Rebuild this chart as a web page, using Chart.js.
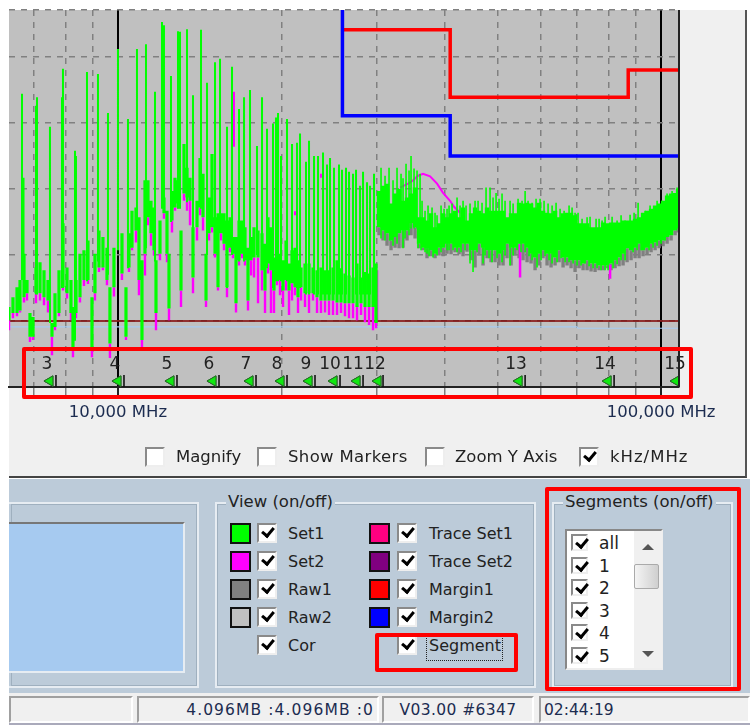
<!DOCTYPE html>
<html>
<head>
<meta charset="utf-8">
<title>Segments</title>
<script src="https://cdn.jsdelivr.net/npm/chart.js@4/dist/chart.umd.min.js"></script>
<style>
  html, body { margin: 0; padding: 0; background: #fff; }
  body { width: 750px; height: 725px; position: relative; overflow: hidden; font-family: "DejaVu Sans", sans-serif; color: #222; }
  .abs { position: absolute; box-sizing: border-box; }
  #top { left: 9px; top: 10px; width: 738px; height: 468px; background: #f0f0f0; border-right: 2px solid #555; border-bottom: 2px solid #444; }
  #lower { left: 9px; top: 479px; width: 741px; height: 214px; background: #bccbd9; }
  #status { left: 9px; top: 693px; width: 741px; height: 32px; background: #f0f0f0; border-bottom: 2px solid #aab; }
  canvas { position: absolute; left: 0; top: 0; }
  .group { border: 2px solid #e6ecf2; outline: 1px solid #9fb0bf; outline-offset: -3px; }
  .title { background: #bccbd9; padding: 0 2px; font-size: 16.5px; line-height: 18px; white-space: nowrap; }
  .label { font-size: 16px; line-height: 20px; white-space: nowrap; }
  .label.wide { font-size: 16.5px; }
  .box { width: 20px; height: 20px; background: #fff; border: 2px solid; border-color: #8a8a8a #eee #eee #8a8a8a; }
  .box.on::after { content: ""; position: absolute; left: 3px; top: 2px; width: 9px; height: 5px; border-left: 3px solid #000; border-bottom: 3px solid #000; transform: rotate(-50deg); }
  .swatch { width: 21px; height: 21px; border: 2px solid #111; }
  .sunk { top: 696px; height: 27px; border: 2px solid; border-color: #a0a0a0 #fff #fff #a0a0a0; font-size: 15.5px; line-height: 24px; white-space: nowrap; color: #1c2c50; }
  .red { border: 4px solid #f00; border-radius: 2px; pointer-events: none; }
</style>
</head>
<body>
<div class="abs" id="top"></div>
<div class="abs" id="lower"></div>
<div class="abs" id="status"></div>
<canvas id="spectrum" width="750" height="475"></canvas>
<div id="ui"></div>
<script>
// x axis
const gridTicks = [7000, 8000, 9000, 10000, 20000, 30000, 40000, 50000, 60000, 70000, 80000, 90000, 100000];
const labelledTicks = [10000, 100000];
const labelledTickText = ['10,000 MHz', '100,000 MHz'];

// Set1 peaks, one row per spike
const spikeFreq = [6657, 6700, 7064, 7094, 7495, 7887, 7920, 8334, 8369, 8769, 9187, 9585, 10000, 10433, 10839, 11261, 11700, 12052, 12154, 12520, 12898, 13008, 13400, 13745, 14220, 14586, 15089, 15412, 15876, 16217, 16706, 17065, 17503, 18030, 18417, 18811, 19296, 19543, 19710, 19962, 20476, 20915, 21363, 21637, 22195, 22479, 22960, 23353, 23853, 24262, 24573, 24992, 25528, 25855, 26296, 26634, 27088, 27436, 27906, 28264, 28747, 29115, 29612];
const spikeTop = [44.4, 31.7, 42.6, 43.9, 39.4, 43.9, 48.2, 35.8, 35.0, 47.7, 47.4, 41.5, 51.2, 40.6, 51.2, 51.9, 44.7, 55.3, 54.8, 47.1, 53.9, 53.8, 54.2, 44.2, 54.1, 46.1, 49.2, 49.7, 39.4, 48.5, 42.1, 43.9, 45.0, 36.5, 43.9, 39.1, 39.9, 40.8, 41.5, 35.0, 40.6, 36.8, 37.0, 38.4, 34.1, 37.3, 35.0, 35.0, 35.5, 33.7, 34.7, 33.2, 33.7, 32.9, 33.2, 32.6, 32.3, 32.9, 30.5, 32.6, 31.0, 30.5, 32.3];
const spikeFloor = [16.2, 16.2, 14, 14, 9.7, 15, 15, 7, 12, 16, 19, 17, 20.7, 18, 24, 21, 19, 27, 27, 25, 27, 27, 28, 24, 27, 20, 25, 24, 15, 20, 19, 19, 20, 20, 18, 18, 15, 16, 16, 16, 16, 16, 15, 15, 14, 14, 14, 14, 14, 14, 14, 14, 14, 14, 14, 14, 14, 14, 14, 14, 14, 14, 14];

// Set1 body below the peaks, 6.3 to 30 GHz
const bodyFreq = [6300, 6407, 6517, 6601, 6714, 6800, 6886, 6975, 7064, 7185, 7308, 7432, 7559, 7656, 7787, 7920, 8056, 8193, 8263, 8369, 8512, 8657, 8806, 8956, 9071, 9226, 9383, 9544, 9665, 9831, 10171, 10345, 10477, 10612, 10794, 10931, 11071, 11213, 11357, 11502, 11650, 11749, 11950, 12154, 12310, 12415, 12574, 12735, 12898, 13063, 13231, 13400, 13572, 13745, 13981, 14160, 14341, 14525, 14710, 14899, 15089, 15282, 15478, 15676, 15876, 16079, 16285, 16494, 16706, 16920, 17136, 17355, 17577, 17802, 18107, 18417, 18653, 18891, 19132, 19377, 19626, 19878, 20132, 20390, 20651, 20915, 21182, 21454, 21729, 22100, 22479, 22863, 23254, 23650, 24056, 24468, 24884, 25312, 25745, 26184, 26634, 27088, 27552, 28025, 28503, 28992, 29487, 29866];
const bodyHigh = [12.1, 13.6, 15.1, 16.2, 20.2, 16.2, 11.2, 10.6, 18.1, 18.9, 17.7, 16.2, 9.7, 14.2, 17.7, 24.8, 18.1, 16.2, 12.1, 16.2, 20.2, 20.7, 22.2, 13.6, 20.2, 23.7, 22.7, 21.1, 15.1, 21.1, 23.3, 15.1, 23.3, 26.7, 27.2, 25.7, 19.2, 31.3, 31.3, 28.2, 27.2, 19.2, 25.2, 28.7, 26.7, 20.2, 29.7, 31.7, 31.3, 23.7, 36.8, 33.2, 31.7, 24.2, 28.2, 34.7, 32.3, 20.2, 28.7, 35.3, 25.7, 26.3, 26.3, 26.3, 25.2, 25.7, 22.7, 22.7, 25.2, 25.2, 24.2, 21.1, 22.7, 24.2, 23.7, 23.3, 21.7, 25.7, 24.2, 19.6, 20.2, 20.2, 19.2, 22.2, 18.7, 20.7, 21.1, 19.2, 18.1, 18.7, 18.7, 18.1, 17.7, 18.1, 17.7, 17.7, 18.1, 19.2, 18.0, 17.2, 16.9, 16.6, 18.7, 16.6, 17.4, 17.2, 18.1, 18.7];
const bodyLow = [10.1, 11.2, 11.2, 11.6, 13.6, 14.2, 7.6, 7.6, 14.2, 14.2, 13.6, 13.1, 7.6, 9.1, 11.2, 15.1, 14.2, 11.2, 6.0, 11.2, 13.6, 16.2, 16.2, 5.6, 14.2, 18.1, 18.1, 16.2, 6.6, 15.1, 17.2, 7.6, 18.1, 21.1, 23.7, 16.2, 7.1, 20.2, 25.7, 23.3, 20.7, 11.2, 20.2, 26.3, 20.2, 11.9, 25.2, 27.2, 27.8, 14.6, 29.3, 28.7, 28.2, 16.6, 24.2, 27.2, 25.7, 13.1, 23.3, 24.2, 20.2, 15.1, 23.3, 21.7, 15.1, 21.1, 20.2, 12.7, 19.2, 20.2, 19.2, 13.1, 19.2, 19.6, 19.6, 17.7, 14.6, 18.7, 17.7, 14.6, 16.6, 16.2, 14.6, 16.2, 14.6, 15.7, 15.1, 13.6, 15.1, 14.2, 14.2, 14.2, 13.6, 13.1, 13.1, 13.1, 13.1, 12.8, 12.8, 12.7, 12.7, 12.7, 12.1, 12.7, 12.1, 12.1, 12.1, 9.7];

// Set2, read where it shows below Set1
const set2Low = [8.6, 10.4, 10.7, 11.3, 12.8, 13.1, 6.8, 7.1, 12.7, 13.1, 12.4, 11.3, 4.8, 8.6, 10.7, 14.6, 13.4, 10.1, 4.5, 10.4, 12.8, 15.3, 15.6, 4.5, 13.1, 17.4, 17.7, 15.4, 4.4, 13.7, 16.2, 7.1, 17.4, 20.7, 21.9, 13.9, 6.0, 16.9, 24.5, 21.4, 19.9, 8.6, 19.2, 25.5, 18.9, 10.1, 23.4, 26.7, 27.0, 12.1, 28.2, 26.7, 24.5, 14.2, 22.2, 26.0, 23.7, 12.1, 22.2, 23.4, 19.6, 14.6, 22.2, 20.7, 13.6, 20.4, 19.5, 11.3, 18.4, 19.5, 18.4, 11.6, 16.9, 16.6, 12.7, 14.6, 11.2, 17.2, 11.2, 11.2, 15.4, 13.9, 12.1, 14.6, 10.9, 13.1, 13.9, 11.2, 13.1, 12.1, 11.2, 13.1, 11.2, 11.2, 11.3, 10.9, 10.9, 10.9, 11.2, 10.7, 10.4, 10.4, 10.1, 10.9, 9.8, 9.4, 8.6, 8.9];
const set2TipFreq = [29990, 54999, 80560];
const set2TipHigh = [17.7, 21.7, 18.5];
const set2TipLow = [10.1, 16.6, 16.4];
const set2OverFreq = [16355, 21182, 23650];
const set2OverHigh = [44.7, 26.6, 32.3];
const set2OverLow = [36.4, 26.0, 31.7];
const set2HumpFreq = [33064, 34205, 34938, 35687, 36452, 37550, 38683, 39679, 40874, 41575, 42645];
const set2HumpLevel = [30.2, 30.8, 31.3, 32.0, 32.3, 31.9, 30.8, 29.4, 28.2, 27.3, 26.4];

// Set1 and Raw1 band, 30 to 108 GHz
const bandFreq = [30247, 30765, 31291, 31826, 32371, 32924, 33488, 34060, 34642, 35235, 35839, 36452, 37075, 37709, 38354, 39011, 39679, 40357, 41048, 41750, 42464, 43191, 43929, 44680, 45445, 46223, 47013, 47817, 48635, 49467, 50314, 51174, 52049, 52940, 53846, 54768, 55705, 56658, 57628, 58613, 59615, 60634, 61673, 62727, 63800, 64893, 66003, 67132, 68280, 69448, 70637, 71847, 73073, 74323, 75596, 76889, 78205, 79541, 80901, 82285, 83694, 85126, 86581, 88062, 89569, 91102, 92660, 94245, 95858, 97498, 99167, 100862, 102588, 104342, 106127, 107487];
const bandHigh = [29.7, 30.5, 30.8, 27.8, 29.3, 30.0, 28.2, 28.7, 29.3, 30.2, 25.7, 25.7, 25.2, 26.3, 24.2, 24.8, 26.3, 25.7, 26.3, 26.7, 25.7, 27.2, 25.2, 26.3, 27.2, 26.7, 26.3, 27.2, 26.7, 26.7, 26.7, 26.7, 25.7, 26.3, 26.3, 27.9, 27.8, 27.9, 27.8, 27.2, 27.9, 26.7, 26.4, 26.3, 26.7, 25.7, 26.3, 26.4, 26.4, 26.0, 24.8, 24.8, 24.8, 24.2, 24.2, 24.2, 24.9, 24.8, 24.9, 24.9, 24.9, 25.2, 25.2, 25.2, 25.5, 25.7, 26.4, 26.7, 27.0, 27.5, 27.8, 28.2, 29.0, 29.3, 29.4, 30.0];
const bandLow = [24.2, 23.7, 23.3, 22.2, 22.7, 23.3, 23.7, 23.7, 24.8, 24.2, 21.7, 21.1, 21.0, 20.7, 20.2, 21.1, 21.1, 21.7, 21.7, 21.1, 21.1, 21.7, 21.7, 20.7, 20.7, 21.7, 21.1, 20.7, 20.7, 20.7, 20.2, 20.7, 21.7, 21.1, 21.1, 21.7, 21.7, 21.1, 20.2, 19.6, 20.2, 20.7, 20.2, 20.2, 19.6, 20.7, 19.6, 19.6, 19.2, 19.2, 19.2, 18.7, 19.2, 18.7, 18.7, 18.4, 18.4, 18.4, 18.7, 19.2, 19.6, 20.2, 21.0, 20.7, 21.1, 21.7, 20.7, 21.1, 21.7, 21.9, 22.2, 22.2, 22.7, 23.0, 23.7, 24.2];
const rawLow = [23.0, 22.2, 21.4, 20.7, 21.1, 21.0, 21.1, 22.2, 23.0, 22.5, 21.0, 20.7, 19.5, 19.8, 19.5, 19.9, 19.8, 20.2, 20.1, 20.4, 20.1, 19.8, 20.5, 19.2, 18.1, 19.9, 18.4, 19.5, 18.9, 18.9, 18.4, 18.4, 19.5, 18.4, 19.9, 19.5, 19.2, 18.9, 18.7, 17.7, 18.4, 19.5, 18.4, 18.1, 18.4, 18.9, 18.1, 18.4, 18.0, 17.4, 18.0, 17.7, 17.7, 17.5, 17.4, 17.7, 17.7, 18.0, 17.7, 18.0, 18.3, 18.4, 18.9, 19.2, 19.5, 19.5, 19.8, 20.1, 20.4, 20.7, 21.0, 21.3, 21.7, 22.2, 23.0, 23.4];

// Set1 noise peaks and dips on top of the band
const bandPeakFreq = [30505, 31558, 32645, 33205, 33917, 34642, 35536, 35993, 36762, 37869, 38683, 39849, 40703, 42105, 43191, 45445, 47615, 48430, 49678, 50955, 52717, 55468, 56190, 56898, 57875, 59869, 61935, 64070, 66288, 67703, 69448, 71540, 73073, 75915, 77870, 82990, 85848, 90717, 93450, 100435, 102588, 107030,
  31027, 32097, 33488, 34350, 35087, 36298, 37233, 38354, 39343, 40357, 41223, 42645, 43743, 44490, 46027, 46810, 49050, 50314, 51610, 53400, 54536, 58860, 60890, 63000, 65170, 68570, 70337, 74000, 76889, 78870, 81250, 84400, 87690, 89190, 95450, 98330, 104780];
const bandPeakTop = [33.2, 33.2, 33.2, 32.3, 33.8, 35.0, 32.8, 32.3, 26.7, 27.2, 26.0, 27.0, 27.5, 28.7, 28.2, 28.2, 30.2, 30.2, 29.4, 29.3, 28.2, 28.2, 29.7, 28.2, 27.9, 28.5, 27.8, 27.9, 26.7, 27.5, 26.4, 25.5, 25.7, 25.5, 25.2, 25.2, 25.2, 27.9, 26.7, 28.2, 29.3, 30.2,
  32.0, 31.3, 31.6, 32.8, 33.1, 28.2, 27.5, 26.4, 27.5, 27.0, 27.8, 27.5, 27.5, 27.8, 28.2, 27.9, 28.7, 28.5, 28.2, 27.8, 28.5, 28.5, 28.2, 27.5, 27.0, 27.2, 26.4, 25.8, 25.5, 25.8, 25.8, 26.0, 26.1, 26.4, 27.5, 28.2, 29.7];
const bandDipFreq = [31692, 33488, 35687, 37075, 38032, 40357, 44490, 45060, 47013, 48842, 50955, 52717, 57875, 59110, 63000, 68870, 72460, 79880, 85848,
  30505, 31027, 32097, 32645, 33770, 34350, 36145, 36762, 37390, 38683, 39343, 40703, 41396, 42105, 42826, 43560, 45830, 47410, 48225, 49890, 51610, 53400, 54300, 55230, 56190, 57140, 60125, 61150, 62200, 64340, 65450, 66570, 67703, 70040, 71240, 73700, 74960, 76240, 77540, 78870, 81600, 82990, 84400, 88810, 90330, 91880, 95050, 96660, 98330, 100010, 101730];
const bandDipLow = [22.2, 21.0, 21.0, 20.2, 19.6, 20.7, 18.7, 17.4, 18.7, 18.9, 18.9, 18.4, 19.2, 18.1, 18.7, 18.7, 18.7, 17.7, 19.2,
  22.5, 22.2, 21.4, 21.7, 22.5, 23.0, 20.7, 20.4, 19.8, 19.9, 20.4, 20.7, 20.7, 20.4, 20.4, 20.7, 20.4, 19.9, 19.5, 19.5, 19.9, 19.9, 20.7, 20.4, 20.4, 19.8, 19.2, 19.8, 19.2, 18.9, 19.5, 18.9, 18.9, 18.4, 18.4, 18.3, 18.0, 18.0, 17.7, 17.7, 18.0, 18.6, 19.2, 20.4, 20.7, 20.7, 20.7, 21.1, 21.4, 21.7, 22.2];

// Limit lines
const margin1Freq = [25900, 40900, 40900, 87000, 87000, 107900];
const margin1Level = [54.1, 54.1, 43.9, 43.9, 48.0, 48.0];
const margin2Freq = [25900, 25900, 40900, 40900, 107900];
const margin2Level = [60, 41.1, 41.1, 35.0, 35.0];
const floorFreq = [6300, 107900];
const floorLevel = [10, 10];
const corFreq = [6300, 70000, 70300, 107900];
const corLevel = [9.1, 9.1, 8.9, 8.9];

// Segment markers
const segmentLabels = ['3', '4', '5', '6', '7', '8', '9', '10', '11', '12', '13', '14', '15'];
const segmentLabelFreq = [7400, 9873, 12310, 14710, 17209, 19626, 22195, 24573, 27088, 29740, 54070, 78870, 106127];
const segmentFreq = [7688, 10258, 12843, 15347, 17954, 20476, 23056, 25637, 28264, 30765, 56190, 81940, 107900];
const flagFreq = [7495, 10000, 12520, 14960, 17503, 19962, 22479, 24992, 27552, 30119, 54768, 79880, 106570];

const yMin = 0;
const yMax = 57.1;
const yStep = 10;
const labelLevel = 3.4;
const flagLevel = 0.9;
const stemLevel = 1.8;

// vertical bars, a null point breaks the line between rows
const bars = (freqs, highs, lows) => freqs.flatMap((f, i) => [
  { x: f, y: lows[i] },
  { x: f, y: highs[i] },
  { x: f, y: null },
]);
const line = (freqs, levels) => freqs.map((f, i) => ({ x: f, y: levels[i] }));

const ds = (data, color, width, order, extra) => Object.assign({
  data, borderColor: color, backgroundColor: color, borderWidth: width, order,
  pointRadius: 0, tension: 0, spanGaps: false, borderCapStyle: 'butt', borderJoinStyle: 'miter',
}, extra);

const plotFrame = {
  id: 'plotFrame',
  beforeDraw(chart) {
    const { ctx, chartArea: a } = chart;
    ctx.save();
    ctx.fillStyle = '#c0c0c0';
    ctx.fillRect(a.left, a.top, a.right - a.left, a.bottom - a.top);
    ctx.restore();
  },
  afterDatasetsDraw(chart) {
    const { ctx, chartArea: a, scales } = chart;
    ctx.save();
    ctx.strokeStyle = '#222';
    ctx.lineWidth = 2;
    ctx.beginPath();
    ctx.moveTo(a.right, a.top);
    ctx.lineTo(a.right, a.bottom);
    ctx.stroke();
    ctx.fillStyle = '#222';
    ctx.font = '17px "DejaVu Sans"';
    ctx.textAlign = 'center';
    ctx.textBaseline = 'middle';
    segmentLabels.forEach((t, i) => {
      ctx.fillText(t, scales.x.getPixelForValue(segmentLabelFreq[i]), scales.y.getPixelForValue(labelLevel));
    });
    ctx.restore();
  },
};

new Chart(document.getElementById('spectrum'), {
  type: 'line',
  plugins: [plotFrame],
  data: {
    datasets: [
      ds(bars(flagFreq, flagFreq.map(() => flagLevel), flagFreq.map(() => flagLevel)), '#00d800', 1, 1, {
        pointRadius: 6, pointStyle: 'triangle', rotation: -90, showLine: false,
        pointBackgroundColor: '#10e810', pointBorderColor: '#2a6a2a', pointBorderWidth: 1,
      }),
      ds(bars(segmentFreq, segmentFreq.map(() => stemLevel), segmentFreq.map(() => yMin)), '#111', 1.6, 2),
      ds(line(margin2Freq, margin2Level), '#0000ff', 3.5, 3),
      ds(line(margin1Freq, margin1Level), '#ff0000', 3.5, 4),
      ds(bars(set2OverFreq, set2OverHigh, set2OverLow), '#ff00ff', 2, 5),
      ds(bars(spikeFreq, spikeTop, spikeFloor), '#00ff00', 2, 6),
      ds(bars(bandPeakFreq, bandPeakTop, bandPeakTop.map(() => 24)), '#00ff00', 1.6, 7),
      ds(bars(bandDipFreq, bandDipFreq.map(() => 24), bandDipLow), '#00ff00', 1.6, 8),
      ds(bars(bodyFreq, bodyHigh, bodyLow), '#00ff00', 3.2, 9),
      ds(bars(bandFreq, bandHigh, bandLow), '#00ff00', 4.4, 10),
      ds(line(set2HumpFreq, set2HumpLevel), '#ff00ff', 2, 11),
      ds(bars(set2TipFreq, set2TipHigh, set2TipLow), '#ff00ff', 2.5, 12),
      ds(bars(bodyFreq, bodyLow, set2Low), '#ff00ff', 2.4, 13),
      ds(bars(bandFreq, bandLow, rawLow), '#808080', 3.4, 14),
      ds(line(floorFreq, floorLevel), '#800000', 1.6, 15),
      ds(line(corFreq, corLevel), '#a6caf0', 1.2, 16),
    ],
  },
  options: {
    responsive: false,
    animation: false,
    devicePixelRatio: 1,
    layout: { padding: { left: 9, top: 10, right: 71, bottom: 0 } },
    plugins: { legend: { display: false }, tooltip: { enabled: false } },
    scales: {
      x: {
        type: 'logarithmic',
        min: 6300,
        max: 107900,
        afterBuildTicks: (axis) => { axis.ticks = gridTicks.map((v) => ({ value: v })); },
        afterFit: (axis) => { axis.height = 88; },
        border: {
          color: '#222', width: 2,
          dash: (ctx) => (labelledTicks.includes(ctx.tick && ctx.tick.value) ? [] : [6, 6]),
        },
        grid: {
          color: (ctx) => (labelledTicks.includes(ctx.tick && ctx.tick.value) ? '#000' : '#808080'),
          lineWidth: (ctx) => (labelledTicks.includes(ctx.tick && ctx.tick.value) ? 2 : 1.5),
          tickLength: 8,
          tickWidth: (ctx) => (labelledTicks.includes(ctx.tick && ctx.tick.value) ? 2 : 1.5),
          tickColor: (ctx) => (labelledTicks.includes(ctx.tick && ctx.tick.value) ? '#222' : '#808080'),
        },
        ticks: {
          autoSkip: false,
          maxRotation: 0,
          padding: 8,
          color: '#1c2c50',
          font: { family: 'DejaVu Sans', size: 16.5 },
          callback: (v) => labelledTickText[labelledTicks.indexOf(v)] || '',
        },
      },
      y: {
        min: yMin,
        max: yMax,
        afterFit: (axis) => { axis.width = 0; },
        border: { display: false, dash: [6, 6] },
        grid: { color: '#808080', lineWidth: 1.5, drawTicks: false },
        ticks: { display: false, stepSize: yStep },
      },
    },
  },
});

// the form around the plot
const ui = document.getElementById('ui');
const add = (cls, x, y, w, h, text, css) => {
  const el = document.createElement('div');
  el.className = 'abs ' + cls;
  el.style.left = x + 'px';
  el.style.top = y + 'px';
  if (w) el.style.width = w + 'px';
  if (h) el.style.height = h + 'px';
  if (text) el.textContent = text;
  if (css) el.style.cssText += css;
  ui.appendChild(el);
  return el;
};

const optionRow = [
  ['Magnify', 145, 176, false, ''], ['Show Markers', 257, 288, false, 'letter-spacing:.35px'],
  ['Zoom Y Axis', 425, 455, false, ''], ['kHz/MHz', 579, 610, true, 'letter-spacing:1px'],
];
optionRow.forEach(([t, bx, lx, on, css]) => {
  add('box' + (on ? ' on' : ''), bx, 447);
  add('label wide', lx, 447, 0, 0, t, css);
});

add('group', 9, 502, 190, 186, '', 'border-left:none');
add('', 9, 522, 176, 151, '', 'background:#a6caf0;border-top:2px solid #777;border-right:2px solid #e6ecf2;border-bottom:2px solid #e6ecf2');

add('group', 215, 502, 321, 186);
add('title', 226, 493, 0, 0, 'View (on/off)');
const viewLeft = [['Set1', '#00ff00'], ['Set2', '#ff00ff'], ['Raw1', '#808080'], ['Raw2', '#c0c0c0'], ['Cor', null]];
const viewRight = [['Trace Set1', '#ff0080'], ['Trace Set2', '#800080'], ['Margin1', '#ff0000'], ['Margin2', '#0000ff'], ['Segment', null]];
const rowY = [523, 551, 579, 607, 635];
viewLeft.forEach(([t, c], i) => {
  if (c) add('swatch', 230, rowY[i], 0, 0, '', 'background:' + c);
  add('box on', 257, rowY[i]);
  add('label', 288, rowY[i] + 1, 0, 0, t);
});
viewRight.forEach(([t, c], i) => {
  if (c) add('swatch', 369, rowY[i], 0, 0, '', 'background:' + c);
  add('box on', 397, rowY[i]);
  add('label', 429, rowY[i] + 1, 0, 0, t);
});
add('', 426, 633, 77, 28, '', 'border:1px dotted #222');

add('group', 552, 502, 181, 186);
add('title', 563, 493, 0, 0, 'Segments (on/off)');
add('', 565, 529, 98, 141, '', 'background:#fff;border:2px solid;border-color:#888 #eee #eee #888');
add('', 634, 531, 28, 137, '', 'background:#f0f0f0');
add('', 634, 564, 25, 25, '', 'background:linear-gradient(90deg,#f4f4f4,#cfcfcf);border:1px solid #aaa;border-radius:2px');
add('', 642, 544, 0, 0, '', 'border:6px solid transparent;border-top:none;border-bottom:6px solid #555');
add('', 642, 651, 0, 0, '', 'border:6px solid transparent;border-bottom:none;border-top:6px solid #555');
const segmentRows = ['all', '1', '2', '3', '4', '5'];
const segmentRowY = [534, 557, 579, 602, 624, 647];
segmentRows.forEach((t, i) => {
  add('box on', 571, segmentRowY[i], 17, 17);
  add('label', 599, segmentRowY[i] - 1, 0, 0, t, 'font-size:17px');
});

add('sunk', 9, 696, 124);
add('sunk', 137, 696, 242, 0, '4.096MB :4.096MB :0', 'text-align:right;padding-right:3px;letter-spacing:1.1px');
add('sunk', 382, 696, 152, 0, 'V03.00 #6347', 'text-align:center;letter-spacing:.4px');
add('sunk', 539, 696, 211, 0, '02:44:19', 'padding-left:3px');

// red call-outs
add('red', 22, 347, 671, 52);
add('red', 375, 633, 143, 39);
add('red', 545, 487, 196, 204);
</script>
</body>
</html>
